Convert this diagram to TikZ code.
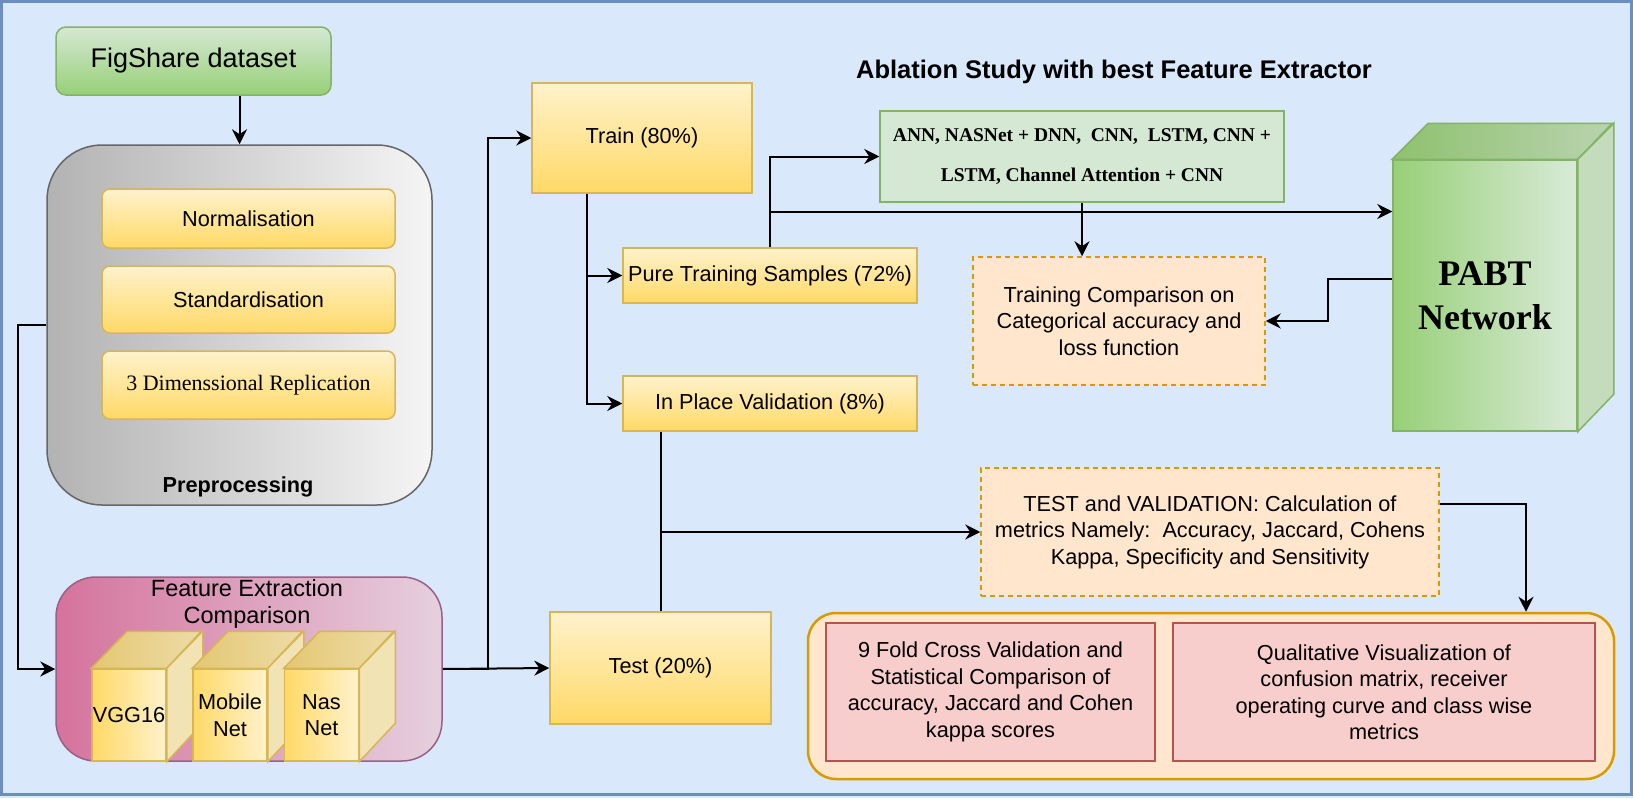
\documentclass[tikz,border=0pt]{standalone}
\usepackage{fontspec}
\setmainfont{Liberation Serif}
\setsansfont{Liberation Sans}
\usetikzlibrary{arrows.meta,positioning}

\definecolor{bgblue}{HTML}{DAE8FC}
\definecolor{frameblue}{HTML}{6C8EBF}
\definecolor{gtop}{HTML}{D5E8D4}
\definecolor{gbot}{HTML}{97D077}
\definecolor{gline}{HTML}{82B366}
\definecolor{ytop}{HTML}{FFF2CC}
\definecolor{ybot}{HTML}{FFD966}
\definecolor{yline}{HTML}{D6B656}
\definecolor{ofill}{HTML}{FFE6CC}
\definecolor{oline}{HTML}{D79B00}
\definecolor{rfill}{HTML}{F8CECC}
\definecolor{rline}{HTML}{B85450}
\definecolor{pleft}{HTML}{D5739D}
\definecolor{pright}{HTML}{E6D0DE}
\definecolor{pline}{HTML}{996185}
\definecolor{ctopa}{HTML}{E4C772}
\definecolor{ctopb}{HTML}{EDDCA8}
\definecolor{cside}{HTML}{F2E3B4}
\definecolor{ptopa}{HTML}{8FC16F}
\definecolor{ptopb}{HTML}{B9D3AF}
\definecolor{pside}{HTML}{C4DCBB}

\begin{document}
\begin{tikzpicture}[x=1pt, y=-1pt,
    txt/.style={font=\sffamily\fontsize{21.7}{26.5}\selectfont, align=center, text=black},
    ybox/.style={txt, draw=yline, line width=1.5pt, top color=ytop, bottom color=ybot, inner sep=0pt},
    dbox/.style={txt, draw=oline, fill=ofill, line width=1.5pt, dash pattern=on 5pt off 4pt, inner sep=0pt},
    rbox/.style={txt, draw=rline, fill=rfill, line width=1.5pt, inner sep=0pt},
    cube/.style={txt, draw=yline, line width=1.5pt, left color=ybot, right color=ytop, inner sep=0pt,
        minimum width=74pt, minimum height=92pt},
    conn/.style={line width=2pt, -{Stealth[length=15pt,width=15pt,inset=5pt]}},
    wire/.style={line width=2pt},
]
    % Canvas
    \useasboundingbox (0,0) rectangle (1633,798);
    \fill[bgblue] (0,0) rectangle (1633,798);
    \draw[frameblue, line width=2.5pt] (1.3,1.3) rectangle (1631.5,794.5);

    % Dataset and preprocessing
    \node[txt, font=\sffamily\fontsize{27}{32}\selectfont, draw=gline, line width=1.5pt, rounded corners=10pt,
        top color=gtop, bottom color=gbot, minimum width=275pt, minimum height=68pt, inner sep=0pt]
        (fig) at (193.5,61) {FigShare dataset};
    \node[draw=black!60, line width=1.5pt, rounded corners=55pt, left color=black!30, right color=black!4,
        minimum width=385pt, minimum height=360pt] (prep) at (239.5,325) {};
    \node[ybox, rounded corners=8pt, minimum width=293pt, minimum height=59pt] (norm) at (248.5,218.5) {Normalisation};
    \node[ybox, rounded corners=8pt, minimum width=293pt, minimum height=67pt] (stand) at (248.5,299.5) {Standardisation};
    \node[ybox, rounded corners=8pt, minimum width=293pt, minimum height=68pt,
        font=\rmfamily\fontsize{22}{26}\selectfont] (repl) at (248.5,385) {3 Dimenssional Replication};
    \node[txt, font=\sffamily\bfseries\fontsize{21.7}{26}\selectfont] (preplabel) at (238,487) {Preprocessing};

    % Feature extractors
    \node[draw=pline, line width=1.5pt, rounded corners=40pt, left color=pleft, right color=pright,
        minimum width=386pt, minimum height=184pt] (feat) at (249,669) {};
    \node[txt, font=\sffamily\fontsize{23.5}{27}\selectfont] (feattitle) at (247,604) {Feature Extraction\\Comparison};
    \foreach \name/\cx/\lbl in {vgg/129/VGG16, mobile/230/{Mobile\\Net}, nas/321.5/{Nas\\Net}}{
        \node[cube] (\name) at (\cx,715) {\lbl};
        \draw[draw=yline, line width=1.5pt, left color=ctopa, right color=ctopb]
            (\name.north west) -- ++(36,-37) -- ++(74,0) -- (\name.north east) -- cycle;
        \draw[draw=yline, line width=1.5pt, fill=cside]
            (\name.north east) -- ++(36,-37) -- ++(0,92) -- (\name.south east) -- cycle;
    }

    % Data split
    \node[ybox, minimum width=220pt, minimum height=110pt] (train) at (642,138) {Train (80\%)};
    \node[ybox, minimum width=294pt, minimum height=55pt] (pure) at (770,275.5) {Pure Training Samples (72\%)};
    \node[ybox, minimum width=294pt, minimum height=55pt] (valid) at (770,403.5) {In Place Validation (8\%)};
    \node[ybox, minimum width=221pt, minimum height=112pt] (test) at (660.5,668) {Test (20\%)};

    % Ablation study
    \node[txt, font=\sffamily\bfseries\fontsize{25.5}{30}\selectfont] (ablation) at (1114,72)
        {Ablation Study with best Feature Extractor};
    \node[txt, font=\rmfamily\bfseries\fontsize{19.5}{40}\selectfont, draw=gline, fill=gtop, line width=1.5pt,
        minimum width=404pt, minimum height=91pt, inner sep=0pt] (ann) at (1082,156.5)
        {ANN, NASNet + DNN,\ \ CNN,\ \ LSTM, CNN +\\LSTM, Channel Attention + CNN};
    \node[dbox, minimum width=292pt, minimum height=128pt] (comp) at (1119,321)
        {Training Comparison on\\Categorical accuracy and\\loss function};

    % PABT network
    \node[txt, font=\rmfamily\bfseries\fontsize{36}{44}\selectfont, draw=gline, line width=1.5pt,
        left color=gbot, right color=gtop!90!white, minimum width=184pt, minimum height=271pt, inner sep=0pt]
        (pabt) at (1485,295.5) {PABT\\Network};
    \draw[draw=gline, line width=1.5pt, left color=ptopa, right color=ptopb]
        (pabt.north west) -- ++(36,-36) -- ++(184,0) -- (pabt.north east) -- cycle;
    \draw[draw=gline, line width=1.5pt, fill=pside]
        (pabt.north east) -- ++(36,-36) -- ++(0,271) -- (pabt.south east) -- cycle;

    % Evaluation
    \node[dbox, minimum width=458pt, minimum height=128pt] (metric) at (1210,532)
        {TEST and VALIDATION: Calculation of\\metrics Namely:\ \ Accuracy, Jaccard, Cohens\\Kappa, Specificity and Sensitivity};
    \node[draw=oline, fill=ofill, line width=2.5pt, rounded corners=28pt,
        minimum width=806pt, minimum height=166pt] (res) at (1211,696) {};
    \node[rbox, minimum width=329pt, minimum height=138pt] (cvbox) at (990.5,692)
        {9 Fold Cross Validation and\\Statistical Comparison of\\accuracy, Jaccard and Cohen\\kappa scores};
    \node[rbox, minimum width=422pt, minimum height=138pt] (qualbox) at (1384,692)
        {Qualitative Visualization of\\confusion matrix, receiver\\operating curve and class wise\\metrics};

    % Connectors
    \draw[conn] (fig.south -| prep.north) -- (prep.north);
    \draw[conn] (prep.west) -- ++(-28,0) |- (feat.west);
    \draw[conn] (feat.east) -- (test.west);
    \draw[conn] (feat.east) -- ++(45,0) |- (train.west);
    \draw[conn] ([xshift=-55pt]train.south) |- (pure.west);
    \draw[conn] ([xshift=-55pt]train.south) |- (valid.west);
    \draw[conn] (pure.north) |- (ann.west);
    \draw[conn] (pure.north) |- ([yshift=84pt]pabt.west);
    \draw[conn] (ann.south) -- (ann.south |- comp.north);
    \draw[conn] ([yshift=17pt]pabt.west) -- ++(-64,0) |- (comp.east);
    \draw[wire] (test.north) -- (test.north |- valid.south);
    \draw[conn] (test.north |- metric.west) -- (metric.west);
    \draw[conn] ([yshift=28pt]metric.east) -| ([xshift=315pt]res.north);
\end{tikzpicture}
\end{document}
